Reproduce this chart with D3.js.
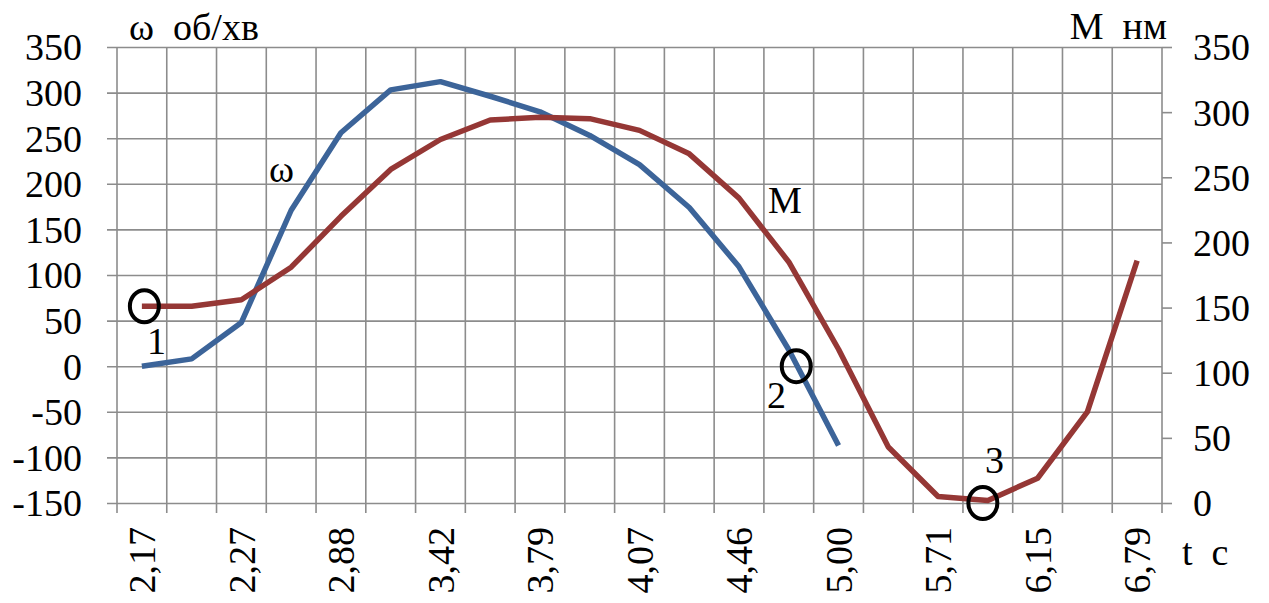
<!DOCTYPE html>
<html lang="uk">
<head>
<meta charset="UTF-8">
<title>ω і M від t</title>
<script src="https://cdn.jsdelivr.net/npm/d3@7"></script>
<style>
  body { margin: 0; background: #fff; }
  svg text { font-family: "Times New Roman", "Liberation Serif", "DejaVu Serif", serif; fill: #000; }
  .grid line { stroke: #8c8c8c; stroke-width: 1.6; }
  .axis path { display: none; }
  .axis line { stroke: #8c8c8c; stroke-width: 1.6; }
  .axis text { font-size: 38px; }
</style>
</head>
<body>
<svg id="chart" width="1269" height="603"></svg>
<script>
// 21 time points, only every second one is labelled
const categories = d3.range(21);
const tickLabels = ["2,17", "2,27", "2,88", "3,42", "3,79", "4,07", "4,46", "5,00", "5,71", "6,15", "6,79"];
// ω, об/хв (left axis)
const omega = [0, 8, 48, 171, 256, 303, 312, 296, 279, 253, 221, 174, 109, 18, -87];
// M, нм (right axis)
const moment = [151, 151, 156, 181, 220, 256, 279, 294, 296, 295, 286, 268, 234, 185, 118, 43, 5, 2, 19, 70, 186];
const leftTicks = [-150, -100, -50, 0, 50, 100, 150, 200, 250, 300, 350];
const rightTicks = [0, 50, 100, 150, 200, 250, 300, 350];

const plotLeft = 117, plotRight = 1162, plotTop = 47, plotBottom = 503;
const svg = d3.select("#chart");

const x = d3.scaleBand().domain(categories).range([plotLeft, plotRight]).padding(0);
const yL = d3.scaleLinear().domain([-150, 350]).range([plotBottom, plotTop]);
const yR = d3.scaleLinear().domain([0, 350]).range([plotBottom, plotTop]);
const cx = i => plotLeft + (i + 0.5) * x.step();   // fractional category position

// vertical grid at category boundaries, with short ticks below the plot
svg.append("g").attr("class", "grid")
  .selectAll("line")
  .data(d3.range(categories.length + 1))
  .join("line")
  .attr("x1", i => plotLeft + i * x.step())
  .attr("x2", i => plotLeft + i * x.step())
  .attr("y1", plotTop)
  .attr("y2", plotBottom + 10);

// left axis: horizontal grid + labels
svg.append("g").attr("class", "axis")
  .attr("transform", `translate(${plotRight},0)`)
  .call(d3.axisLeft(yL).tickValues(leftTicks).tickSize(plotRight - plotLeft + 10).tickPadding(25).tickFormat(d => d))
  .selectAll("text").attr("dy", "0.34em");

// right axis
svg.append("g").attr("class", "axis")
  .attr("transform", `translate(${plotRight},0)`)
  .call(d3.axisRight(yR).tickValues(rightTicks).tickSize(10).tickPadding(21).tickFormat(d => d))
  .selectAll("text").attr("dy", "0.34em");

// bottom axis labels, rotated
svg.append("g").attr("class", "axis")
  .attr("transform", `translate(0,${plotBottom})`)
  .call(d3.axisBottom(x).tickValues(categories.filter(i => i % 2 === 0)).tickSize(0)
    .tickFormat(i => tickLabels[i / 2]))
  .selectAll("text")
  .attr("transform", "rotate(-90)")
  .attr("text-anchor", "end")
  .attr("x", -24)
  .attr("y", 0)
  .attr("dy", "0.35em");

// lines
const lineL = d3.line().x((d, i) => x(i) + x.bandwidth() / 2).y(d => yL(d));
const lineR = d3.line().x((d, i) => x(i) + x.bandwidth() / 2).y(d => yR(d));

svg.append("path").datum(omega)
  .attr("d", lineL)
  .attr("fill", "none").attr("stroke", "#3c6499").attr("stroke-width", 5.5)
  .attr("stroke-linejoin", "round");

svg.append("path").datum(moment)
  .attr("d", lineR)
  .attr("fill", "none").attr("stroke", "#953735").attr("stroke-width", 5.5)
  .attr("stroke-linejoin", "round");

// marked points
const marks = [
  { pos: 0.05, y: yR(moment[0]), label: "1", lx: 147, ly: 354 },
  { pos: 13.15, y: yL(0), label: "2", lx: 767, ly: 408 },
  { pos: 16.9, y: yR(0), label: "3", lx: 985, ly: 473 }
];
svg.append("g").selectAll("ellipse").data(marks).join("ellipse")
  .attr("cx", d => cx(d.pos)).attr("cy", d => d.y)
  .attr("rx", 14.5).attr("ry", 16)
  .attr("fill", "none").attr("stroke", "#000").attr("stroke-width", 4);

svg.append("g").selectAll("text").data(marks).join("text")
  .attr("x", d => d.lx).attr("y", d => d.ly)
  .attr("font-size", 38)
  .text(d => d.label);

// series labels and axis titles
const txt = (s, tx, ty, anchor) => svg.append("text")
  .attr("x", tx).attr("y", ty).attr("font-size", 38)
  .attr("text-anchor", anchor || "start")
  .attr("xml:space", "preserve").style("white-space", "pre")
  .text(s);

txt("ω", 269, 182);
txt("M", 768, 213);
txt("ω  об/хв", 129, 40);
txt("M  нм", 1167, 39, "end");
txt("t  c", 1182, 565);
</script>
</body>
</html>
